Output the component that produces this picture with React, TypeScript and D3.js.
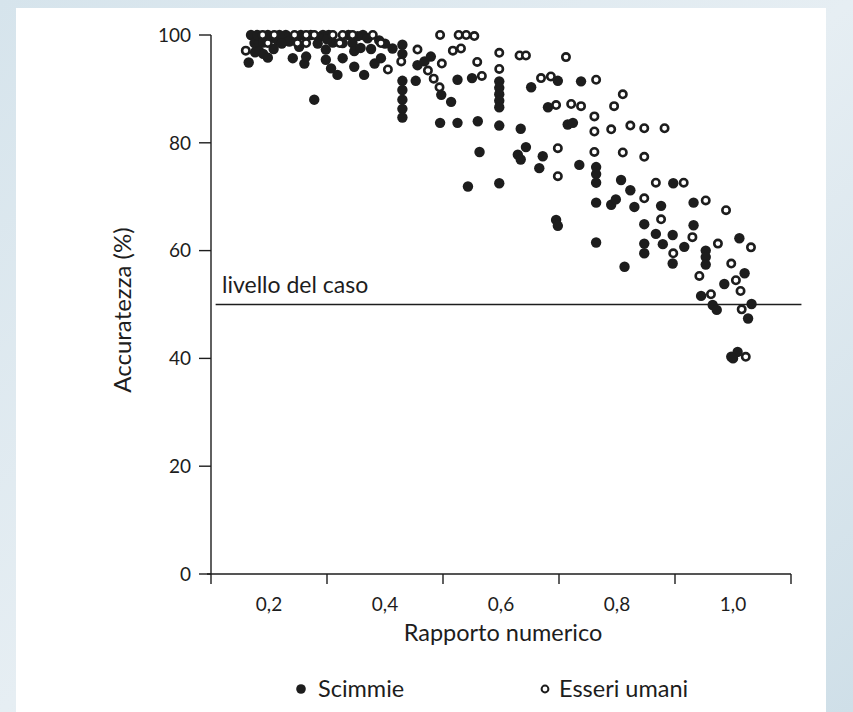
import React from "react";
import * as d3 from "d3";

const W = 853;
const H = 712;

// Scimmie (monkeys) — filled markers: [rapporto numerico, accuratezza %]
const monkeys: [number, number][] = [
  [0.165, 94.9], [0.169, 100], [0.175, 98.5], [0.183, 98.5], [0.183, 97], [0.19, 96.5],
  [0.198, 95.8], [0.205, 99.5], [0.215, 99], [0.229, 100], [0.235, 98.8], [0.241, 95.7],
  [0.255, 100], [0.261, 94.7], [0.264, 96], [0.278, 88], [0.293, 100], [0.298, 97.3],
  [0.298, 95.4], [0.307, 93.8], [0.318, 92.6], [0.327, 95.7], [0.327, 98.5], [0.344, 98.5],
  [0.347, 97], [0.347, 94.1], [0.362, 100], [0.364, 92.6], [0.382, 94.7], [0.393, 95.7],
  [0.413, 97.5], [0.43, 98.2], [0.43, 96.5], [0.43, 91.5], [0.43, 89.8], [0.43, 88],
  [0.43, 86.3], [0.43, 84.7], [0.453, 91.5], [0.456, 94.4], [0.468, 95.1], [0.479, 96],
  [0.497, 88.9], [0.514, 87.6], [0.525, 91.7], [0.55, 92], [0.495, 83.7], [0.525, 83.7],
  [0.56, 84], [0.597, 91.4], [0.597, 90.2], [0.597, 89], [0.597, 87.8], [0.597, 86.6],
  [0.597, 83.2], [0.634, 82.6], [0.652, 90.3], [0.698, 91.5], [0.738, 91.4], [0.681, 86.6],
  [0.715, 83.4], [0.724, 83.7], [0.563, 78.3], [0.543, 71.9], [0.597, 72.5], [0.629, 77.8],
  [0.643, 79.2], [0.634, 76.9], [0.672, 77.5], [0.666, 75.3], [0.735, 75.9], [0.764, 75.5],
  [0.764, 74.2], [0.764, 72.6], [0.807, 73.1], [0.823, 71.2], [0.897, 72.5], [0.764, 68.9],
  [0.79, 68.5], [0.798, 69.5], [0.83, 68.1], [0.876, 68.3], [0.932, 68.9], [0.847, 64.9],
  [0.932, 64.7], [0.695, 65.7], [0.698, 64.6], [0.764, 61.5], [0.813, 57], [0.847, 61.3],
  [0.847, 59.5], [0.867, 63.1], [0.879, 61.2], [0.896, 62.9], [0.896, 57.6], [0.916, 60.7],
  [0.953, 60], [0.953, 58.8], [0.953, 57.4], [1.011, 62.3], [1.02, 55.8], [0.985, 53.8],
  [0.945, 51.6], [0.965, 49.9], [0.972, 49], [1.032, 50.1], [1.026, 47.4], [0.997, 40.3],
  [1.008, 41.2], [1.0, 40.0],
  [0.18, 100], [0.198, 100], [0.218, 100], [0.272, 100], [0.286, 99.6], [0.303, 100],
  [0.337, 100], [0.353, 99.8], [0.37, 99.4], [0.39, 99], [0.19, 98.6], [0.222, 98.4],
  [0.252, 97.8], [0.284, 98.4], [0.31, 98.6], [0.358, 97.6], [0.376, 97.4], [0.4, 98.4],
  [0.176, 96.8], [0.208, 97.4], [0.3, 99.2],
];

// Esseri umani (humans) — open markers
const humans: [number, number][] = [
  [0.16, 97.1], [0.189, 100], [0.198, 98.5], [0.209, 100], [0.244, 100], [0.249, 98.5],
  [0.264, 100], [0.264, 98.5], [0.278, 100], [0.31, 100], [0.322, 98.5], [0.327, 100],
  [0.344, 100], [0.379, 100], [0.393, 98.5], [0.405, 93.6], [0.428, 95.1], [0.456, 97.3],
  [0.495, 100], [0.527, 100], [0.54, 100], [0.554, 99.8], [0.517, 97.1], [0.531, 97.5],
  [0.498, 94.7], [0.559, 95], [0.567, 92.4], [0.474, 93.4], [0.484, 91.9], [0.494, 90.3],
  [0.597, 96.7], [0.597, 93.7], [0.632, 96.2], [0.643, 96.2], [0.712, 95.9], [0.669, 92],
  [0.686, 92.3], [0.764, 91.7], [0.695, 87], [0.721, 87.2], [0.738, 86.8], [0.761, 84.9],
  [0.761, 82.1], [0.761, 78.3], [0.698, 79], [0.698, 73.8], [0.81, 89], [0.795, 86.8],
  [0.79, 82.5], [0.823, 83.2], [0.847, 82.7], [0.882, 82.7], [0.81, 78.2], [0.847, 77.4],
  [0.867, 72.6], [0.915, 72.6], [0.847, 69.7], [0.953, 69.3], [0.988, 67.5], [0.876, 65.8],
  [0.93, 62.5], [0.974, 61.3], [1.031, 60.6], [0.897, 59.5], [0.942, 55.3], [0.997, 57.6],
  [1.005, 54.5], [1.013, 52.5], [0.962, 51.9], [1.015, 49.1], [1.022, 40.3],
];

const yTicks = [0, 20, 40, 60, 80, 100];
const xTickMarks = [0.3, 0.5, 0.7, 0.9, 1.1];
const xTickLabels = [0.2, 0.4, 0.6, 0.8, 1.0];
const chanceLevel = 50;
const chanceLabel = "livello del caso";
const xTitle = "Rapporto numerico";
const yTitle = "Accuratezza (%)";
const legendItems = ["Scimmie", "Esseri umani"];

const FONT = "Lato, 'Open Sans', sans-serif";
const INK = "#1d1d1d";

export default function App() {
  const x = d3.scaleLinear().domain([0.1, 1.1]).range([211, 791]);
  const y = d3.scaleLinear().domain([0, 100]).range([574, 35]);
  const fmt = (v: number) => v.toFixed(1).replace(".", ",");

  return (
    <div style={{ position: "fixed", left: 0, top: 0 }}>
      <svg width={W} height={H} style={{ display: "block" }}>
        <defs>
          <linearGradient id="bg" x1="0" y1="0" x2="1" y2="1">
            <stop offset="0" stopColor="#d6e4ec" />
            <stop offset="0.5" stopColor="#e6eef3" />
            <stop offset="1" stopColor="#cfdfe8" />
          </linearGradient>
        </defs>
        <rect x={0} y={0} width={W} height={H} fill="url(#bg)" />
        <rect x={16} y={8} width={810} height={H - 8} fill="#ffffff" />

        {/* Y axis */}
        <line x1={x(0.1)} x2={x(0.1)} y1={y(100)} y2={y(0) + 10} stroke={INK} strokeWidth={1.4} />
        {yTicks.map((t) => (
          <g key={"yt" + t}>
            <line x1={x(0.1) - 12} x2={x(0.1)} y1={y(t)} y2={y(t)} stroke={INK} strokeWidth={1.4} />
            <text x={x(0.1) - 20} y={y(t)} dy="0.36em" textAnchor="end" fontFamily={FONT} fontSize={19} fill={INK}>
              {t}
            </text>
          </g>
        ))}
        {/* X axis */}
        <line x1={x(0.1) - 4} x2={x(1.1)} y1={y(0)} y2={y(0)} stroke={INK} strokeWidth={1.4} />
        {xTickMarks.map((t) => (
          <line key={"xm" + t} x1={x(t)} x2={x(t)} y1={y(0)} y2={y(0) + 10} stroke={INK} strokeWidth={1.4} />
        ))}
        {xTickLabels.map((t) => (
          <text key={"xl" + t} x={x(t)} y={y(0) + 37} textAnchor="middle" fontFamily={FONT} fontSize={19} fill={INK}>
            {fmt(t)}
          </text>
        ))}
        <text x={(x(0.1) + x(1.1)) / 2 + 2} y={641} textAnchor="middle" fontFamily={FONT} fontSize={23.5} fill={INK}>
          {xTitle}
        </text>
        <text
          transform={`translate(131, ${310}) rotate(-90)`}
          textAnchor="middle"
          fontFamily={FONT}
          fontSize={24}
          fill={INK}
        >
          {yTitle}
        </text>

        {/* chance level */}
        <line x1={x(0.108)} x2={x(1.118)} y1={y(chanceLevel)} y2={y(chanceLevel)} stroke={INK} strokeWidth={1.6} />
        <text x={x(0.119)} y={y(chanceLevel) - 12} fontFamily={FONT} fontSize={23} fill={INK}>
          {chanceLabel}
        </text>

        {/* points */}
        {monkeys.map((d, i) => (
          <circle key={"m" + i} cx={x(d[0])} cy={y(d[1])} r={5.2} fill={INK} />
        ))}
        {humans.map((d, i) => (
          <circle key={"h" + i} cx={x(d[0])} cy={y(d[1])} r={3.7} fill="#fff" stroke={INK} strokeWidth={2.6} />
        ))}

        {/* legend */}
        <circle cx={301} cy={689} r={4.8} fill={INK} />
        <text x={318} y={697} fontFamily={FONT} fontSize={23.5} fill={INK}>
          {legendItems[0]}
        </text>
        <circle cx={545} cy={689} r={3.4} fill="#fff" stroke={INK} strokeWidth={2} />
        <text x={559} y={697} fontFamily={FONT} fontSize={23.5} fill={INK}>
          {legendItems[1]}
        </text>
      </svg>
    </div>
  );
}
